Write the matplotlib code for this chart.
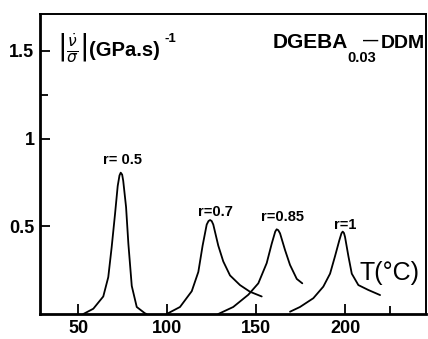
import matplotlib
matplotlib.use("Agg")
import matplotlib.pyplot as plt
from matplotlib.ticker import FixedLocator

# ---- data ----
t_r05 = [53.0, 58.6, 64.2, 67.0, 68.9, 70.8, 72.3, 73.3, 74.0, 74.8, 75.4, 77.0, 78.3, 80.2, 83.0, 87.6, 88.5]
v_r05 = [0.0, 0.03, 0.10, 0.21, 0.38, 0.57, 0.73, 0.79, 0.806, 0.795, 0.76, 0.61, 0.40, 0.16, 0.04, 0.004, 0.0]

t_r07 = [99.8, 107.3, 113.9, 117.6, 120.0, 122.3, 123.3, 124.2, 125.1, 126.0, 128.8, 131.6, 135.4, 141.0, 146.6, 153.2]
v_r07 = [0.0, 0.04, 0.13, 0.24, 0.39, 0.51, 0.53, 0.536, 0.53, 0.51, 0.39, 0.30, 0.22, 0.165, 0.127, 0.10]

t_r085 = [128.8, 137.2, 145.7, 151.3, 156.0, 158.8, 160.8, 161.6, 162.5, 163.5, 166.3, 169.1, 172.9, 176.0]
v_r085 = [0.0, 0.04, 0.11, 0.175, 0.29, 0.40, 0.47, 0.483, 0.478, 0.46, 0.365, 0.28, 0.20, 0.175]

t_r1 = [169.1, 174.7, 182.2, 187.8, 191.6, 194.4, 196.8, 198.0, 198.7, 199.4, 200.0, 201.9, 203.8, 207.5, 213.1, 219.7]
v_r1 = [0.013, 0.04, 0.09, 0.156, 0.23, 0.33, 0.42, 0.46, 0.47, 0.462, 0.44, 0.33, 0.23, 0.165, 0.137, 0.108]

curve_labels = ["r= 0.5", "r=0.7", "r=0.85", "r=1"]
label_x = [75.0, 127.4, 164.9, 200.0]
label_y = [0.878, 0.579, 0.552, 0.51]

x_major = [50, 100, 150, 200]
x_minor = [225]
y_major = [0.5, 1, 1.5]
y_major_labels = ["0.5", "1", "1.5"]
y_minor = [1.25]

SANS = ["Liberation Sans", "DejaVu Sans"]

fig = plt.figure(figsize=(4.28, 3.39), dpi=100)
ax = fig.add_axes([40 / 428, 1 - 314 / 339, 386 / 428, 300 / 339])

for t, v in [(t_r05, v_r05), (t_r07, v_r07), (t_r085, v_r085), (t_r1, v_r1)]:
    ax.plot(t, v, color="black", lw=1.3, solid_joinstyle="round", solid_capstyle="round")

ax.set_xlim(28.65, 245.5)
ax.set_ylim(0, 1.711)

ax.xaxis.set_major_locator(FixedLocator(x_major))
ax.xaxis.set_minor_locator(FixedLocator(x_minor))
ax.yaxis.set_major_locator(FixedLocator(y_major))
ax.yaxis.set_minor_locator(FixedLocator(y_minor))
ax.set_yticklabels(y_major_labels)

ax.tick_params(axis="both", which="major", direction="in", length=7, width=1.3, pad=4)
ax.tick_params(axis="both", which="minor", direction="in", length=6, width=1.3)
ax.tick_params(top=False, right=False)
for lab in ax.get_xticklabels() + ax.get_yticklabels():
    lab.set_fontfamily(SANS)
    lab.set_fontweight("bold")
    lab.set_fontsize(13)

ax.spines["left"].set_linewidth(2.0)
ax.spines["bottom"].set_linewidth(2.0)
ax.spines["top"].set_linewidth(1.4)
ax.spines["right"].set_linewidth(1.4)

for s, x, y in zip(curve_labels, label_x, label_y):
    ax.text(x, y, s, ha="center", va="center", fontsize=10.5, fontweight="bold", family=SANS)

ax.text(208.4, 0.231, "T(°C)", ha="left", va="center", fontsize=18, family=SANS)

tr = ax.transAxes
# y-quantity label
ax.text(0.045, 0.888, r"$\left|\frac{\dot{\nu}}{\sigma}\right|$", transform=tr,
        ha="left", va="center", fontsize=16)
ax.text(0.128, 0.88, "(GPa.s)", transform=tr, ha="left", va="center",
        fontsize=14.5, fontweight="bold", family=SANS)
ax.text(0.322, 0.918, "-1", transform=tr, ha="left", va="center",
        fontsize=9.5, fontweight="bold", family=SANS)

# system label
ax.text(0.998, 0.887, "DDM", transform=tr, ha="right", va="baseline",
        fontsize=14, fontweight="bold", family=SANS)
ax.text(0.797, 0.887, "DGEBA", transform=tr, ha="right", va="baseline",
        fontsize=15, fontweight="bold", family=SANS)
ax.text(0.797, 0.84, "0.03", transform=tr, ha="left", va="baseline",
        fontsize=10.5, fontweight="bold", family=SANS)
ax.text(0.836, 0.91, "—", transform=tr, ha="left", va="center",
        fontsize=11, fontweight="bold", family=SANS)

fig.savefig("out.png", dpi=100)
